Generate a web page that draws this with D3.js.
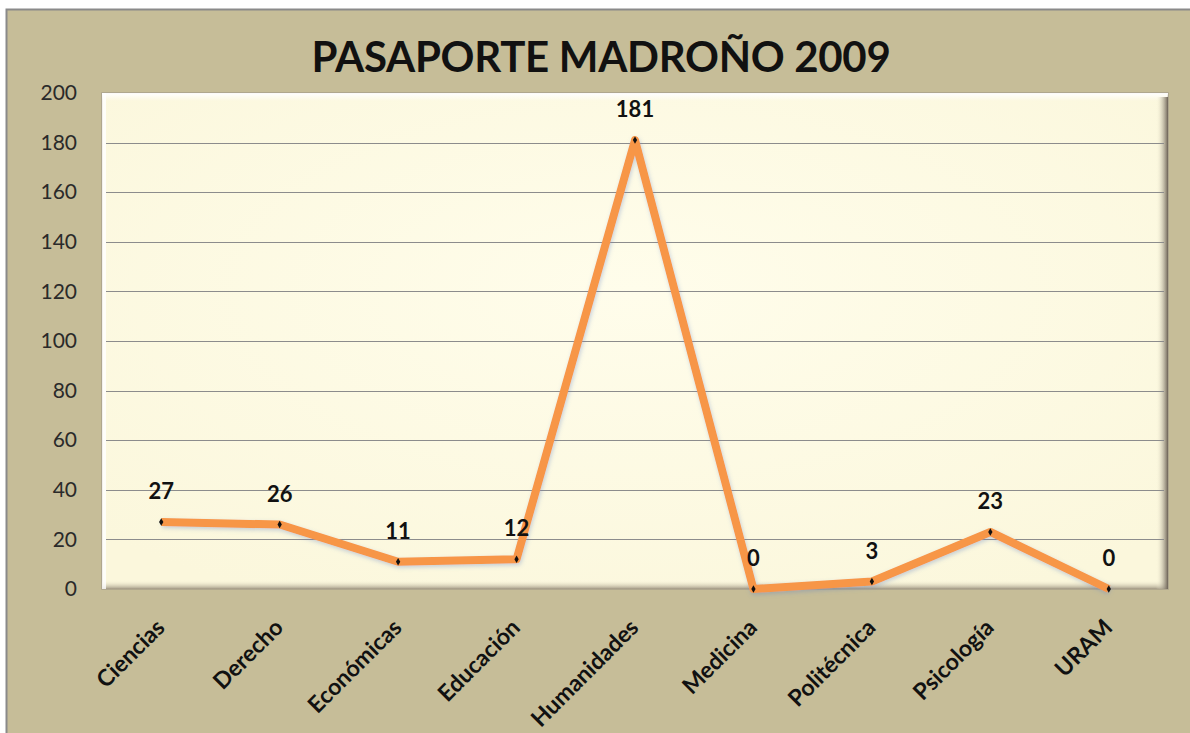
<!DOCTYPE html>
<html><head><meta charset="utf-8">
<script src="https://cdn.jsdelivr.net/npm/d3@7"></script>
<style>html,body{margin:0;padding:0;background:#fff;}svg{display:block;}</style>
</head><body>
<svg id="c" width="1190" height="733"></svg>
<script>
const categories = ["Ciencias","Derecho","Económicas","Educación","Humanidades","Medicina","Politécnica","Psicología","URAM"];
const values = [27,26,11,12,181,0,3,23,0];
const yTicks = [0,20,40,60,80,100,120,140,160,180,200];
const title = "PASAPORTE MADROÑO 2009";

const svg = d3.select("#c");
const W = 1190, H = 733;
const m = {left:102, top:93, right:1168, bottom:589};
const font = "Lato, 'Open Sans', sans-serif";

const defs = svg.append("defs");
const g1 = defs.append("radialGradient").attr("id","pbg").attr("cx","50%").attr("cy","40%").attr("r","70%");
g1.append("stop").attr("offset","0%").attr("stop-color","#fffdeb");
g1.append("stop").attr("offset","100%").attr("stop-color","#fbf7dc");
const gr = defs.append("linearGradient").attr("id","rsh").attr("x1","0").attr("x2","1");
gr.append("stop").attr("offset","0%").attr("stop-color","#fffbe0").attr("stop-opacity",0);
gr.append("stop").attr("offset","100%").attr("stop-color","#6e6458");
const gb = defs.append("linearGradient").attr("id","bsh").attr("x1","0").attr("x2","0").attr("y1","0").attr("y2","1");
gb.append("stop").attr("offset","0%").attr("stop-color","#fffbe0").attr("stop-opacity",0);
gb.append("stop").attr("offset","100%").attr("stop-color","#a39a86");
const gt = defs.append("linearGradient").attr("id","tsh").attr("x1","0").attr("x2","0").attr("y1","0").attr("y2","1");
gt.append("stop").attr("offset","0%").attr("stop-color","#ffffff");
gt.append("stop").attr("offset","100%").attr("stop-color","#ffffff").attr("stop-opacity",0);
const f = defs.append("filter").attr("id","glow").attr("x","-20%").attr("y","-20%").attr("width","140%").attr("height","140%");
f.append("feGaussianBlur").attr("in","SourceAlpha").attr("stdDeviation",2);
f.append("feOffset").attr("dx",1).attr("dy",2).attr("result","b");
f.append("feFlood").attr("flood-color","#6080c0").attr("flood-opacity",0.35);
f.append("feComposite").attr("in2","b").attr("operator","in");
const fm = f.append("feMerge"); fm.append("feMergeNode"); fm.append("feMergeNode").attr("in","SourceGraphic");

// outer background
svg.append("rect").attr("x",0).attr("y",0).attr("width",W).attr("height",H).attr("fill","#ffffff");
svg.append("rect").attr("x",6.5).attr("y",9.5).attr("width",W+20).attr("height",H+20)
  .attr("fill","#c6bd98").attr("stroke","#8a8a8a").attr("stroke-width",2);

const x = d3.scaleBand().domain(categories).range([m.left, m.right]);
const y = d3.scaleLinear().domain([0,200]).range([m.bottom, m.top]);

// plot area
svg.append("rect").attr("x",m.left).attr("y",m.top).attr("width",m.right-m.left).attr("height",m.bottom-m.top)
  .attr("fill","url(#pbg)").attr("stroke","#a8a08a").attr("stroke-width",1.5);
svg.append("rect").attr("x",m.left).attr("y",m.top).attr("width",m.right-m.left).attr("height",8).attr("fill","url(#tsh)");
svg.append("rect").attr("x",m.left).attr("y",m.bottom-9).attr("width",m.right-m.left).attr("height",9).attr("fill","url(#bsh)");
svg.append("rect").attr("x",m.right-12).attr("y",m.top+4).attr("width",12).attr("height",m.bottom-m.top-4).attr("fill","url(#rsh)");
svg.append("rect").attr("x",m.left).attr("y",m.top).attr("width",4).attr("height",m.bottom-m.top).attr("fill","#ffffff").attr("opacity",0.8);

// gridlines
svg.append("g").selectAll("line").data(yTicks.filter(t=>t>0 && t<200)).join("line")
  .attr("x1",m.left+4).attr("x2",m.right-4)
  .attr("y1",d=>Math.round(y(d))+0.5).attr("y2",d=>Math.round(y(d))+0.5)
  .attr("stroke","#8c8c8c").attr("stroke-width",1);

// y axis
const ya = svg.append("g").attr("transform",`translate(${m.left},0)`)
  .call(d3.axisLeft(y).tickValues(yTicks).tickSize(0).tickPadding(25));
ya.select(".domain").remove();
ya.selectAll("text").attr("font-family",font).attr("font-size",21).attr("fill","#2a2a2a");

// x axis labels
const xa = svg.append("g").attr("transform",`translate(0,${m.bottom})`)
  .call(d3.axisBottom(x).tickSize(0).tickPadding(0));
xa.select(".domain").remove();
xa.selectAll("text").attr("font-family",font).attr("font-weight","bold").attr("font-size",23).attr("fill","#111")
  .attr("text-anchor","end").attr("dy",0)
  .attr("transform","translate(5,40) rotate(-45)");

// title
svg.append("text").attr("x",601).attr("y",72).attr("text-anchor","middle")
  .attr("font-family",font).attr("font-weight","bold").attr("font-size",42).attr("fill","#111")
  .attr("letter-spacing","-0.3").text(title);

// line
const line = d3.line().x((d,i)=>x(categories[i])+x.bandwidth()/2).y(d=>y(d));
svg.append("path").datum(values).attr("d",line).attr("fill","none")
  .attr("stroke","#f79646").attr("stroke-width",8).attr("stroke-linejoin","round").attr("filter","url(#glow)");

// markers
svg.append("g").selectAll("path").data(values).join("path")
  .attr("d",d3.symbol(d3.symbolDiamond,16))
  .attr("transform",(d,i)=>`translate(${x(categories[i])+x.bandwidth()/2},${y(d)})`)
  .attr("fill","#111");

// labels
svg.append("g").selectAll("text").data(values).join("text")
  .attr("x",(d,i)=>x(categories[i])+x.bandwidth()/2)
  .attr("y",d=>y(d)-23)
  .attr("text-anchor","middle").attr("font-family",font).attr("font-weight","bold").attr("font-size",22).attr("fill","#111")
  .text(d=>d);
</script>
</body></html>
